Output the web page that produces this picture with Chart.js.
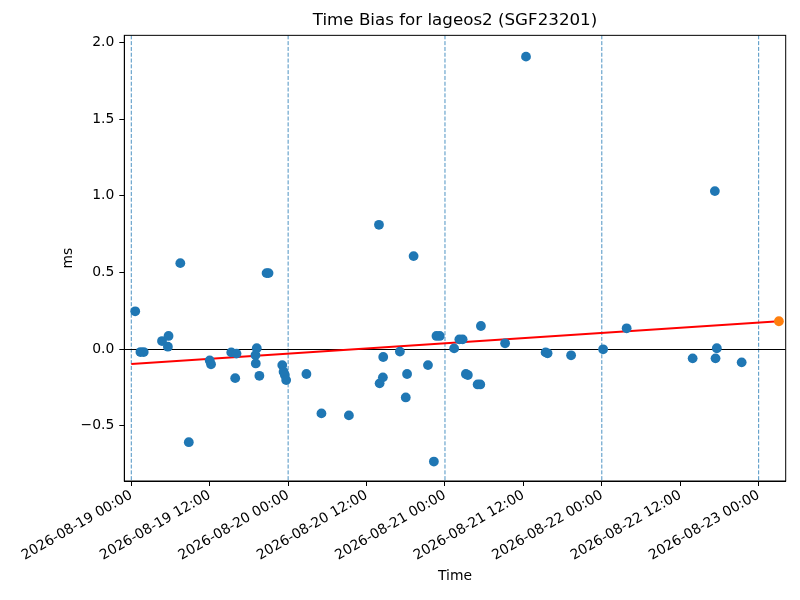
<!DOCTYPE html>
<html lang="en">
<head>
  <meta charset="UTF-8" />
  <title>Time Bias for lageos2 (SGF23201)</title>
  <script src="https://cdn.jsdelivr.net/npm/chart.js"></script>
  <style>
    html, body { margin: 0; padding: 0; background: #fff; }
    #wrap { width: 800px; height: 600px; }
  </style>
</head>
<body>
  <div id="wrap"><canvas id="biasChart" width="800" height="600"></canvas></div>

  <script>
    // Time bias measurements (ms)
    const biasTimes = [
      '2026-08-19 00:36', '2026-08-19 01:24', '2026-08-19 01:54', '2026-08-19 04:42',
      '2026-08-19 05:42', '2026-08-19 05:36', '2026-08-19 07:30', '2026-08-19 08:48',
      '2026-08-19 12:00', '2026-08-19 12:12', '2026-08-19 15:18', '2026-08-19 16:06',
      '2026-08-19 15:54', '2026-08-19 19:12', '2026-08-19 19:00', '2026-08-19 19:03',
      '2026-08-19 19:36', '2026-08-19 20:42', '2026-08-19 21:00', '2026-08-19 23:06',
      '2026-08-19 23:18', '2026-08-19 23:30', '2026-08-19 23:42',
      '2026-08-20 02:48', '2026-08-20 05:06', '2026-08-20 09:18', '2026-08-20 13:54',
      '2026-08-20 14:00', '2026-08-20 14:30', '2026-08-20 14:33', '2026-08-20 17:06',
      '2026-08-20 18:00', '2026-08-20 18:12', '2026-08-20 19:12', '2026-08-20 21:24',
      '2026-08-20 22:18', '2026-08-20 22:42', '2026-08-20 23:12',
      '2026-08-21 01:24', '2026-08-21 02:12', '2026-08-21 02:42', '2026-08-21 03:12',
      '2026-08-21 03:30', '2026-08-21 05:00', '2026-08-21 05:24', '2026-08-21 05:30',
      '2026-08-21 09:12', '2026-08-21 12:24', '2026-08-21 15:24', '2026-08-21 15:42',
      '2026-08-21 19:18',
      '2026-08-22 00:12', '2026-08-22 03:48', '2026-08-22 13:54', '2026-08-22 17:18',
      '2026-08-22 17:24', '2026-08-22 17:36', '2026-08-22 21:24'
    ];
    const biasValues = [
      0.246, -0.020, -0.020, 0.052,
      0.085, 0.015, 0.560, -0.608,
      -0.075, -0.100, -0.022, -0.030,
      -0.190, 0.005, -0.040, -0.094,
      -0.175, 0.495, 0.495, -0.105,
      -0.148, -0.170, -0.203,
      -0.163, -0.420, -0.433, 0.810,
      -0.224, -0.185, -0.052, -0.017,
      -0.316, -0.163, 0.606, -0.105,
      -0.734, 0.085, 0.085,
      0.004, 0.063, 0.063, -0.163,
      -0.170, -0.231, -0.231, 0.150,
      0.037, 1.907, -0.022, -0.028,
      -0.041,
      -0.002, 0.135, -0.061, 1.030,
      -0.061, 0.005, -0.087
    ];

    // Predicted point
    const predTimes = ['2026-08-23 03:06'];
    const predValues = [0.181];

    // Trend line end points
    const fitTimes = ['2026-08-19 00:00', '2026-08-23 03:06'];
    const fitValues = [-0.098, 0.181];

    // Tick labels and day markers
    const xTickTimes = [
      '2026-08-19 00:00', '2026-08-19 12:00', '2026-08-20 00:00', '2026-08-20 12:00',
      '2026-08-21 00:00', '2026-08-21 12:00', '2026-08-22 00:00', '2026-08-22 12:00',
      '2026-08-23 00:00'
    ];
    const dayTimes = [
      '2026-08-19 00:00', '2026-08-20 00:00', '2026-08-21 00:00',
      '2026-08-22 00:00', '2026-08-23 00:00'
    ];
    const yTicks = [-0.5, 0.0, 0.5, 1.0, 1.5, 2.0];

    // hours since the first midnight, so a linear scale can act as a time axis
    const ORIGIN = Date.UTC(2026, 7, 19, 0, 0);
    function toHours(s) {
      const [d, t] = s.split(' ');
      const [Y, M, D] = d.split('-').map(Number);
      const [h, m] = t.split(':').map(Number);
      return (Date.UTC(Y, M - 1, D, h, m) - ORIGIN) / 3600000;
    }
    function fmtHours(v) {
      const dt = new Date(ORIGIN + Math.round(v * 60) * 60000);
      const p = n => String(n).padStart(2, '0');
      return dt.getUTCFullYear() + '-' + p(dt.getUTCMonth() + 1) + '-' + p(dt.getUTCDate()) +
        ' ' + p(dt.getUTCHours()) + ':' + p(dt.getUTCMinutes());
    }
    const pts = (ts, vs) => ts.map((t, i) => ({ x: toHours(t), y: vs[i] }));

    const BLUE = '#1f77b4';
    const ORANGE = '#ff7f0e';
    const FONT = "'DejaVu Sans', sans-serif";

    // frame, zero line and dashed midnight lines
    const refLines = {
      id: 'refLines',
      beforeDatasetsDraw(chart) {
        const { ctx, chartArea: a, scales: { x, y } } = chart;
        ctx.save();
        ctx.beginPath();
        ctx.rect(a.left, a.top, a.right - a.left, a.bottom - a.top);
        ctx.clip();
        ctx.strokeStyle = BLUE;
        ctx.lineWidth = 0.8;
        ctx.setLineDash([4, 1.8]);
        dayTimes.forEach(t => {
          const px = x.getPixelForValue(toHours(t));
          ctx.beginPath();
          ctx.moveTo(px, a.top);
          ctx.lineTo(px, a.bottom);
          ctx.stroke();
        });
        ctx.setLineDash([]);
        ctx.strokeStyle = '#000';
        ctx.lineWidth = 1;
        const py = Math.round(y.getPixelForValue(0)) + 0.5;
        ctx.beginPath();
        ctx.moveTo(a.left, py);
        ctx.lineTo(a.right, py);
        ctx.stroke();
        ctx.restore();
      },
      afterDraw(chart) {
        const { ctx, chartArea: a } = chart;
        ctx.save();
        ctx.strokeStyle = '#000';
        ctx.lineWidth = 1;
        ctx.strokeRect(a.left, a.top, a.right - a.left, a.bottom - a.top);
        ctx.restore();
      }
    };

    new Chart(document.getElementById('biasChart'), {
      type: 'scatter',
      data: {
        datasets: [
          {
            label: 'Prediction',
            data: pts(predTimes, predValues),
            backgroundColor: ORANGE,
            borderWidth: 0,
            pointRadius: 4.9,
            order: 0
          },
          {
            label: 'Time bias',
            data: pts(biasTimes, biasValues),
            backgroundColor: BLUE,
            borderWidth: 0,
            pointRadius: 4.9,
            order: 1
          },
          {
            type: 'line',
            label: 'Trend',
            data: pts(fitTimes, fitValues),
            borderColor: 'red',
            borderWidth: 2,
            pointRadius: 0,
            fill: false,
            order: 2
          }
        ]
      },
      options: {
        responsive: false,
        animation: false,
        layout: { padding: { left: 56, right: 14.3, top: 0, bottom: 0 } },
        plugins: {
          legend: { display: false },
          tooltip: { enabled: false },
          title: {
            display: true,
            fullSize: false,
            text: 'Time Bias for lageos2 (SGF23201)',
            color: '#000',
            font: { family: FONT, size: 16.7, weight: 'normal' },
            padding: { top: 11, bottom: 4.3 }
          }
        },
        scales: {
          x: {
            type: 'linear',
            min: -1.07,
            max: 100.14,
            afterBuildTicks: s => { s.ticks = xTickTimes.map(t => ({ value: toHours(t) })); },
            afterFit: s => { s.height = 119; },
            grid: { drawOnChartArea: false, drawTicks: true, tickLength: 5, color: '#000' },
            border: { display: true, color: '#000', width: 1 },
            ticks: {
              color: '#000',
              font: { family: FONT, size: 13.9 },
              minRotation: 30,
              maxRotation: 30,
              padding: 1,
              callback: v => fmtHours(v)
            },
            title: {
              display: true,
              text: 'Time',
              color: '#000',
              font: { family: FONT, size: 13.9 },
              padding: { top: 4, bottom: 15 }
            }
          },
          y: {
            type: 'linear',
            min: -0.861,
            max: 2.046,
            afterBuildTicks: s => { s.ticks = yTicks.map(v => ({ value: v })); },
            afterFit: s => { s.width = 68.3; },
            grid: { drawOnChartArea: false, drawTicks: true, tickLength: 5, color: '#000' },
            border: { display: true, color: '#000', width: 1 },
            ticks: {
              color: '#000',
              font: { family: FONT, size: 13.9 },
              padding: 5,
              callback: v => v.toFixed(1).replace('-', '\u2212')
            },
            title: {
              display: true,
              text: 'ms',
              color: '#000',
              font: { family: FONT, size: 13.9 },
              padding: { top: 4, bottom: 4 }
            }
          }
        }
      },
      plugins: [refLines]
    });
  </script>
</body>
</html>
